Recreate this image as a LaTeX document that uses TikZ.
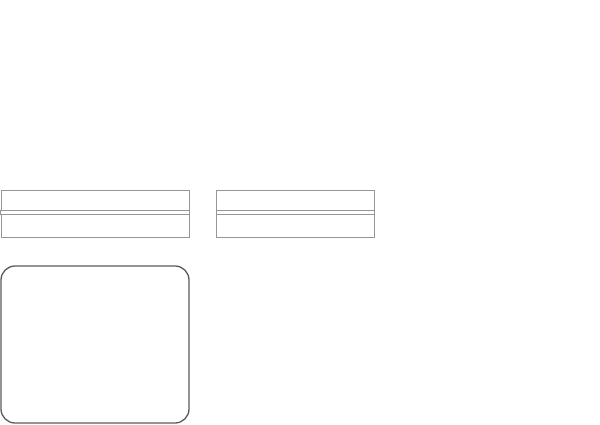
\documentclass[tikz,border=0pt]{standalone}
\usepackage{tikz}
\definecolor{boxgray}{RGB}{150,150,150}
\definecolor{framegray}{RGB}{90,90,90}
\newcommand{\mkclass}[4]{% #1: x1, #2: y1, #3: x2, #4: y2
	\draw[boxgray,line width=0.9pt] (#1,#2) rectangle (#3,#4);
	\draw[boxgray,line width=0.9pt,fill=white] ($(#1,{(#2+#4)/2-3.3})+(-0.5,0)$) rectangle ($(#3,{(#2+#4)/2})+(0.5,0)$);
}
\usetikzlibrary{calc}

\begin{document}
\begin{tikzpicture}[x=1pt,y=-1pt]
	% Fix the page
	\useasboundingbox (0,0) rectangle (600,424);
	
	% Two class boxes
	\mkclass{1}{190.5}{189}{237.5}
	\mkclass{216.5}{190.5}{374}{237.5}
	
	% Rounded frame
	\draw[framegray,line width=1.3pt,rounded corners=14pt] (1,266) rectangle (189,423);
\end{tikzpicture}
\end{document}
